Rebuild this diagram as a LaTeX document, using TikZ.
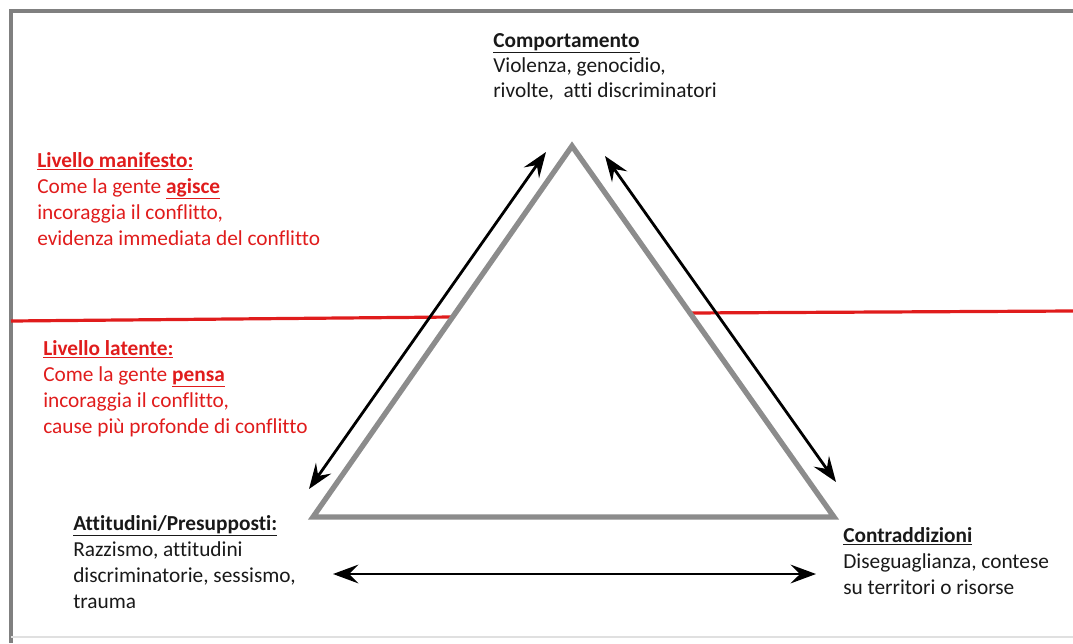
\documentclass[tikz,border=0pt]{standalone}
\usepackage{fontspec}
\setmainfont{Carlito}[Ligatures=NoCommon]
\usetikzlibrary{arrows.meta}

\definecolor{rahmen}{RGB}{128,128,128}
\definecolor{dreieck}{RGB}{140,140,140}
\definecolor{livello}{RGB}{224,28,28}
\definecolor{testo}{RGB}{25,25,25}

\tikzset{
  blocco/.style={anchor=north west, inner sep=0pt, align=left, text=testo,
    font=\fontsize{16}{19.5}\selectfont},
  rosso/.style={blocco, text=livello},
  freccia/.style={line width=2.1pt, <->},
}

\begin{document}
\begin{tikzpicture}[x=0.75pt, y=-0.75pt,
    >={Stealth[length=19pt, width=14pt, inset=7pt]}]
    \useasboundingbox (0,0) rectangle (1073,643);

    % 边框
    \draw[rahmen, line width=3pt] (1073,11) -- (11,11) -- (11,643);
    \draw[black!12, line width=0.8pt] (11,637) -- (1073,637);

    % 三角形的顶点
    \coordinate (top) at (572,146);
    \coordinate (sx) at (313,517);
    \coordinate (dx) at (834,517);

    % 两个层次之间的红线
    \draw[livello, line width=2.4pt] (11,321) -- (452,317);
    \draw[livello, line width=2.4pt] (690,313) -- (1073,311);

    \draw[dreieck, line width=4pt] (top) -- (sx) -- (dx) -- cycle;

    % 双向箭头
    \coordinate (a1) at (309,489);
    \coordinate (a2) at (546,152);
    \coordinate (b1) at (605,156);
    \coordinate (b2) at (836,482);
    \coordinate (c1) at (333,574);
    \coordinate (c2) at (816,574);
    \draw[freccia] (a1) -- (a2);
    \draw[freccia] (b1) -- (b2);
    \draw[freccia] (c1) -- (c2);

    % 文字
    \node[blocco, font=\fontsize{16}{18.8}\selectfont] (comp) at (493,33)
        {\underline{\textbf{Comportamento}}\\
         Violenza, genocidio,\\
         rivolte,\ \ atti discriminatori};
    \node[rosso] (manif) at (37,152)
        {\underline{\textbf{Livello manifesto:}}\\
         Come la gente \underline{\textbf{agisce}}\\
         incoraggia il conflitto,\\
         evidenza immediata del conflitto};
    \node[rosso] (lat) at (43,340)
        {\underline{\textbf{Livello latente:}}\\
         Come la gente \underline{\textbf{pensa}}\\
         incoraggia il conflitto,\\
         cause più profonde di conflitto};
    \node[blocco] (att) at (73,515)
        {\underline{\textbf{Attitudini/Presupposti:}}\\
         Razzismo, attitudini\\
         discriminatorie, sessismo,\\
         trauma};
    \node[blocco] (contr) at (843,527)
        {\underline{\textbf{Contraddizioni}}\\
         Diseguaglianza, contese\\
         su territori o risorse};
\end{tikzpicture}
\end{document}
